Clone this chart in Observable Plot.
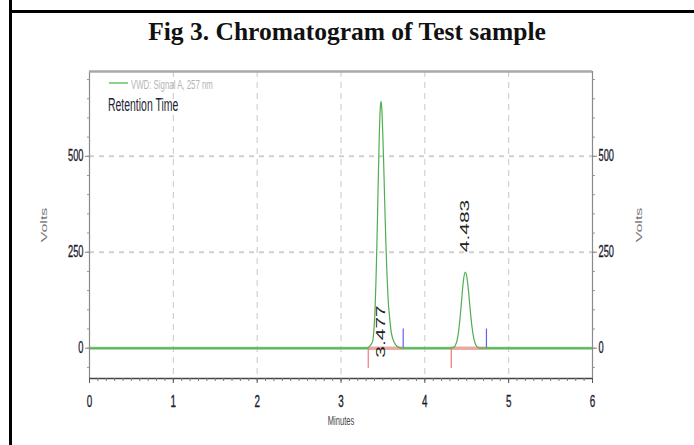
<!DOCTYPE html>
<html>
<head>
<meta charset="utf-8">
<script src="https://cdn.jsdelivr.net/npm/d3@7"></script>
<script src="https://cdn.jsdelivr.net/npm/@observablehq/plot@0.6"></script>
<style>
  body { margin: 0; background: #fff; }
  #wrap { position: relative; width: 694px; height: 445px; background: #fff; overflow: hidden; }
  .lg { position: absolute; white-space: nowrap; font-family: "Liberation Sans", Arial, sans-serif; transform: scaleX(0.58); transform-origin: left center; }
  g.hz text { stroke: #1b1b2e; stroke-width: 0.35px; }
</style>
</head>
<body>
<div id="wrap">
  <div style="position:absolute;left:9px;top:0;width:3px;height:445px;background:#000"></div>
  <div style="position:absolute;left:9px;top:10px;width:685px;height:3px;background:#000"></div>
  <div id="title" style="position:absolute;top:17px;left:0;width:694px;text-align:center;font:bold 25.5px/30px 'Liberation Serif','Times New Roman',serif;color:#111">Fig 3. Chromatogram of Test sample</div>
  <div id="chart" style="position:absolute;left:0;top:50px"></div>
  <div style="position:absolute;left:109px;top:82px;width:19px;height:2px;background:#8fcf8f"></div>
  <div class="lg" style="left:131px;top:77px;font-size:13.5px;line-height:15px;color:#b4b4b4">VWD: Signal A, 257 nm</div>
  <div class="lg" style="left:108px;top:95px;font-size:18px;line-height:20px;color:#1f2533">Retention Time</div>
</div>
<script>
// ---- data ----
const xTicks = [0, 1, 2, 3, 4, 5, 6];
const yTicks = [0, 250, 500];
const time  = [0, 3.30, 3.377, 3.387, 3.397, 3.407, 3.417, 3.427, 3.437, 3.447, 3.457, 3.467, 3.477,
               3.487, 3.497, 3.507, 3.517, 3.527, 3.537, 3.547, 3.557, 3.567, 3.577, 3.597, 3.617, 3.637, 3.667, 3.707, 3.75,
               4.30, 4.343, 4.363, 4.383, 4.403, 4.423, 4.443, 4.463, 4.483,
               4.503, 4.523, 4.543, 4.563, 4.583, 4.603, 4.623, 4.653, 6.0];
const volts = [0, 0, 17, 33, 62, 107, 174, 259, 359, 463, 555, 620, 643,
               623, 568, 498, 417, 337, 264, 202, 151, 111, 87, 45, 25, 14, 5, 1, 0,
               0, 2, 7, 19, 44, 85, 136, 181, 198,
               183, 144, 96, 55, 27, 11, 4, 0, 0];
const peakTimes  = [3.477, 4.483];
const peakLabels = ["3.477", "4.483"];
const labelVolts = [-25, 250];
const startTimes = [3.325, 4.315];
const endTimes   = [3.742, 4.735];

const trace = time.map((t, i) => ({t, v: volts[i]}));
const peaks = peakTimes.map((t, i) => ({t, v: labelVolts[i], label: peakLabels[i]}));
const segs = startTimes.map((s, i) => ({s, e: endTimes[i]}));
const minorX = d3.range(0, 61).map(i => i / 10);
const minorY = d3.range(-1, 15).map(i => i * 50);

const font = "'Liberation Sans', Arial, sans-serif";

const chart = Plot.plot({
  width: 694,
  height: 395,
  marginTop: 21,
  marginBottom: 67,
  marginLeft: 89,
  marginRight: 102,
  style: {fontFamily: font, fontSize: "16px", color: "#1a1a33", background: "transparent"},
  x: {domain: [0, 6], axis: null},
  y: {domain: [-79, 721], axis: null},
  marks: [
    Plot.gridX(xTicks.slice(1, -1), {stroke: "#c8c8c8", strokeDasharray: "6,5", strokeOpacity: 1}),
    Plot.gridY([250, 500], {stroke: "#d0d0d0", strokeDasharray: "5,5", strokeWidth: 2, strokeOpacity: 1}),
    Plot.ruleY([0], {stroke: "#84c784", strokeWidth: 3, strokeOpacity: 0.9}),
    Plot.link(segs, {x1: "s", x2: "e", y1: 0, y2: 0, stroke: "#f4a3a3", strokeWidth: 3}),
    Plot.ruleX(startTimes, {y1: 0, y2: -53, stroke: "#f07878", strokeWidth: 1.2}),
    Plot.ruleX(endTimes, {y1: 0, y2: 50, stroke: "#6060f0", strokeWidth: 1.2}),
    Plot.line(trace, {x: "t", y: "v", stroke: "#4fae4f", strokeWidth: 1.2, curve: "monotone-x"}),
    Plot.text(peaks, {x: "t", y: "v", text: "label", rotate: -90, textAnchor: "start", fontSize: 21,
      fill: "#222", className: "rot"}),
    // frame
    Plot.ruleX([0, 6], {stroke: "#8a8a8a", strokeWidth: 1.2}),
    Plot.ruleY([721], {stroke: "#a8a8a8", strokeWidth: 2.5}),
    Plot.ruleY([-79], {stroke: "#444", strokeWidth: 1.5}),
    // axes
    Plot.axisX({ticks: minorX, tickSize: 3, tickFormat: () => "", stroke: "#777", label: null}),
    Plot.axisX({ticks: xTicks, tickSize: 5, tickPadding: 11, stroke: "#555", fontSize: 17, fill: "#1b1b2e",
      tickFormat: d => String(d), label: null, className: "hz"}),
    Plot.axisY({ticks: minorY, anchor: "left", tickSize: 2, tickFormat: () => "", stroke: "#999", label: null}),
    Plot.axisY({ticks: minorY, anchor: "right", tickSize: 2, tickFormat: () => "", stroke: "#999", label: null}),
    Plot.axisY({ticks: yTicks, anchor: "left", tickSize: 4, tickPadding: 2, stroke: "#888", fontSize: 16, fill: "#1b1b2e",
      tickFormat: d => String(d), label: null, className: "hz"}),
    Plot.axisY({ticks: yTicks, anchor: "right", tickSize: 4, tickPadding: 2, stroke: "#888", fontSize: 16, fill: "#1b1b2e",
      tickFormat: d => String(d), label: null, className: "hz"}),
    Plot.text(["Volts"], {frameAnchor: "left", dx: -46, rotate: -90, textAnchor: "middle", fill: "#777", fontSize: 16, className: "rot"}),
    Plot.text(["Volts"], {frameAnchor: "right", dx: 46, rotate: -90, textAnchor: "middle", fill: "#777", fontSize: 16, className: "rot"}),
    Plot.text(["Minutes"], {frameAnchor: "bottom", dy: 46, fill: "#444", fontSize: 13, className: "hzl"})
  ]
});

// the source image is squeezed horizontally: narrow horizontal text, thin rotated text
const isPx = v => v != null && /^-?[\d.]+$/.test(v.trim());
function squeeze(sel, sx, sy) {
  sel.each(function () {
    let t = this.getAttribute("transform") || "";
    const x = this.getAttribute("x"), y = this.getAttribute("y");
    let tx = 0, ty = 0;
    if (isPx(x)) { tx = +x; this.removeAttribute("x"); }
    if (isPx(y)) { ty = +y; this.removeAttribute("y"); }
    if (tx || ty) t = `${t} translate(${tx},${ty})`;
    this.setAttribute("transform", `${t} scale(${sx},${sy})`);
  });
}
squeeze(d3.select(chart).selectAll("g.hz text, g.hzl text"), 0.58, 1);
squeeze(d3.select(chart).selectAll("g.rot text"), 1, 0.6);

document.getElementById("chart").appendChild(chart);
</script>
</body>
</html>
